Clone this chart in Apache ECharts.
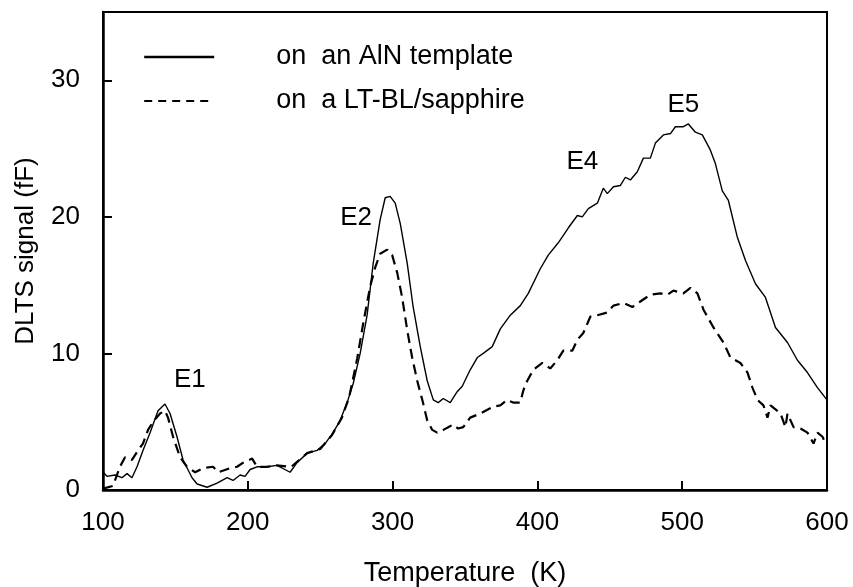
<!DOCTYPE html>
<html>
<head>
<meta charset="utf-8">
<script src="https://cdn.jsdelivr.net/npm/echarts@6/dist/echarts.min.js"></script>
<style>
html,body{margin:0;padding:0;background:#fff;}
#chart{width:853px;height:587px;}
</style>
</head>
<body>
<div id="chart"></div>
<script>
// Temperature (K) and DLTS signal (fF)
var tempAlN = [100,102.8,108.3,113.1,116.6,120,123.5,127.6,132.5,138,142.8,146.3,151.1,155.3,161.5,165,171.9,178.8,185.7,189.8,194.7,198.1,201.6,206.4,213.3,220.2,229.2,234,241,247.9,253.4,258.9,263.8,268.6,272.8,277.6,282.4,286.6,291.4,294.9,298.3,301.8,305.3,310.1,314.2,319.1,323.9,328.1,331.5,335,339.8,344.6,348.1,353.6,358.5,362.6,368.8,374.4,381.3,388.2,393.7,402,407.5,414.4,421.4,427.6,431,435.2,441.4,445.5,448.3,452.5,457.3,460.8,464.2,469,473.2,478,481.5,487,491.9,495.3,500.8,504.3,509.1,513.9,519.4,522.9,527.7,531.9,538.1,543.7,550.6,557.5,564.4,572.7,579.6,586.5,593.4,600];
var signalAlN = [1.3,1.0,1.1,0.9,1.2,0.9,1.7,2.9,4.2,5.8,6.3,5.6,3.9,2.2,0.9,0.44,0.2,0.5,0.9,0.7,1.1,1.0,1.5,1.7,1.7,1.8,1.3,2.0,2.7,2.9,3.4,4.2,5.1,6.4,7.8,10.0,12.8,16.6,19.8,21.4,21.5,21.0,19.5,16.6,13.4,10.5,8.0,6.6,6.4,6.7,6.4,7.2,7.6,8.8,9.7,10.0,10.5,11.8,12.8,13.5,14.4,16.2,17.2,18.1,19.2,20.1,20.0,20.6,21.0,22.1,21.7,22.2,22.3,22.9,22.7,23.3,24.3,24.3,25.4,26.0,26.1,26.6,26.6,26.8,26.2,26.0,24.9,23.9,21.9,21.2,18.5,16.8,15.1,14.1,11.9,10.8,9.5,8.6,7.5,6.6];

var tempLT = [100,106.9,111.7,115.2,120,124.2,127.6,131.1,134.6,139.4,142.8,144.9,148.4,153.2,158,163.6,169.1,176,179.5,187.8,192.6,196.8,203,206.4,213.3,220,230,241,250,258,265,270,275.5,279.7,284.5,288,291.4,296.3,299.7,303.2,306.6,310.1,313.5,317,320.5,323.9,327.4,330.8,335,338.4,341.9,345.3,348.8,353.6,360.5,369.5,374.4,379.2,383.3,388.2,390.3,393,397.2,403.4,408.9,413.7,417.9,424.1,427.6,431.7,436.6,441.4,448.3,452.5,459.4,465.6,471.1,478,484.9,489.8,493.9,500.8,505.7,510.5,514.7,521.6,528.5,533.3,540.2,545.1,548.5,552,556.1,558.9,561,567.9,571.3,572.7,576.9,581.7,586.5,590.7,593.4,596.9,599];
var signalLT = [0.1,0.3,1.7,2.4,2.2,2.9,3.4,4.4,5.0,5.6,5.8,5.3,3.9,2.4,1.7,1.3,1.6,1.7,1.3,1.6,1.7,2.0,2.3,1.7,1.7,1.8,1.7,2.7,3.0,4.0,5.3,6.8,9.6,12.2,14.9,16.3,17.3,17.6,17.2,15.9,14.1,11.7,9.7,8.0,6.6,5.1,4.4,4.2,4.4,4.6,4.8,4.5,4.6,5.3,5.6,6.1,6.2,6.6,6.4,6.4,7.3,8.0,8.8,9.3,8.9,9.5,10.2,10.2,11.0,11.5,12.7,12.8,13.0,13.5,13.7,13.4,13.8,14.3,14.4,14.3,14.6,14.4,14.8,14.4,13.2,11.9,10.8,9.7,9.3,8.6,7.5,6.6,6.2,5.3,6.2,5.6,4.6,5.6,4.6,4.5,4.2,3.4,4.2,3.9,3.4];

var peakLabels = ['E1','E2','E4','E5'];
var peakTemps = [160,274.8,431,500.8];
var peakSignals = [8.1,19.9,24.0,28.2];

var seriesNames = ['on  an AlN template','on  a LT-BL/sapphire'];
var xTicks = [100,200,300,400,500,600];
var yTicks = [0,10,20,30];

function zip(a,b){var r=[];for(var i=0;i<a.length;i++){r.push([a[i],b[i]]);}return r;}
var peakData = [];
for (var i=0;i<peakLabels.length;i++){peakData.push({value:[peakTemps[i],peakSignals[i]],name:peakLabels[i]});}

var FONT = '"Liberation Sans", Arial, sans-serif';
var chart = echarts.init(document.getElementById('chart'), null, {renderer:'canvas'});
chart.setOption({
  animation:false,
  backgroundColor:'#fff',
  grid:{left:103,right:26,top:12,bottom:97,outerBoundsMode:'none',show:true,borderColor:'#000',borderWidth:2,backgroundColor:'transparent'},
  legend:{
    orient:'vertical',left:143,top:42,padding:0,itemWidth:70,itemHeight:14,itemGap:14,
    textStyle:{fontFamily:FONT,fontSize:27,color:'#000',lineHeight:30,padding:[0,0,0,57]},
    data:[
      {name:seriesNames[0],itemStyle:{opacity:0},lineStyle:{color:'#000',width:2.4,type:'solid'}},
      {name:seriesNames[1],itemStyle:{opacity:0},lineStyle:{color:'#000',width:2,type:[8,6]}}
    ]
  },
  xAxis:{
    type:'value',min:xTicks[0],max:xTicks[xTicks.length-1],interval:100,
    name:'Temperature  (K)',nameLocation:'middle',nameGap:70,
    nameTextStyle:{fontFamily:FONT,fontSize:27,color:'#000'},
    axisLine:{lineStyle:{color:'#000',width:2.5}},
    axisTick:{inside:true,length:9,lineStyle:{color:'#000',width:2}},
    axisLabel:{fontFamily:FONT,fontSize:26,color:'#000',margin:20},
    splitLine:{show:false}
  },
  yAxis:{
    type:'value',min:0,max:35,interval:10,
    name:'DLTS signal (fF)',nameLocation:'middle',nameGap:64,
    nameTextStyle:{fontFamily:FONT,fontSize:26,color:'#000'},
    axisLine:{show:true,lineStyle:{color:'#000',width:2.5}},
    axisTick:{show:true,inside:true,length:9,lineStyle:{color:'#000',width:2}},
    axisLabel:{fontFamily:FONT,fontSize:26,color:'#000',margin:23,showMaxLabel:false,
      formatter:function(v){return yTicks.indexOf(v)>=0?String(v):'';}},
    splitLine:{show:false}
  },
  series:[
    {name:seriesNames[0],type:'line',data:zip(tempAlN,signalAlN),showSymbol:false,symbol:'none',
     lineStyle:{color:'#000',width:1.4},itemStyle:{color:'#000'}},
    {name:seriesNames[1],type:'line',data:zip(tempLT,signalLT),showSymbol:false,symbol:'none',
     lineStyle:{color:'#000',width:2.2,type:[10,6]},itemStyle:{color:'#000'}},
    {name:'peaks',type:'scatter',data:peakData,symbolSize:1,itemStyle:{color:'rgba(0,0,0,0)',opacity:1},
     label:{show:true,position:'inside',formatter:'{b}',fontFamily:FONT,fontSize:26,color:'#000',opacity:1},
     emphasis:{disabled:true},silent:true}
  ]
});
</script>
</body>
</html>
